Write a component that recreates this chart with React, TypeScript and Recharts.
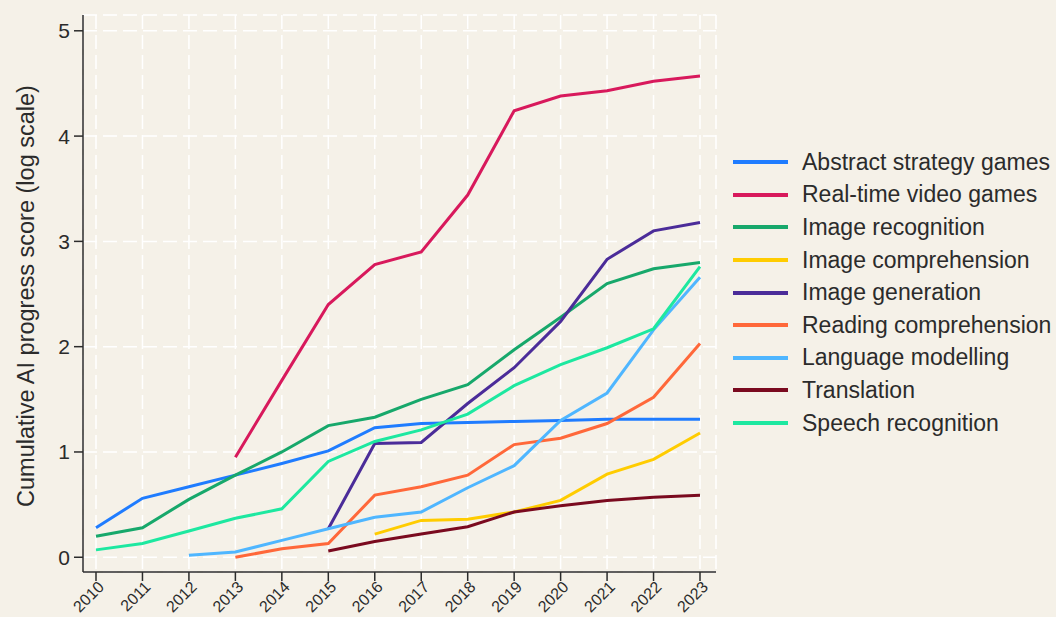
import React from 'react';
import { LineChart, Line, XAxis, YAxis, CartesianGrid, Legend } from 'recharts';

// --- data ---
const years = [2010, 2011, 2012, 2013, 2014, 2015, 2016, 2017, 2018, 2019, 2020, 2021, 2022, 2023];

const abstractStrategy = [0.28, 0.56, 0.67, 0.78, 0.89, 1.01, 1.23, 1.27, 1.28, 1.29, 1.3, 1.31, 1.31, 1.31];
const realTimeVideo = [null, null, null, 0.95, 1.68, 2.4, 2.78, 2.9, 3.44, 4.24, 4.38, 4.43, 4.52, 4.57];
const imageRecognition = [0.2, 0.28, 0.55, 0.78, 1.0, 1.25, 1.33, 1.5, 1.64, 1.97, 2.28, 2.6, 2.74, 2.8];
const imageComprehension = [null, null, null, null, null, null, 0.22, 0.35, 0.36, 0.43, 0.54, 0.79, 0.93, 1.18];
const imageGeneration = [null, null, null, null, null, 0.27, 1.08, 1.09, 1.46, 1.8, 2.24, 2.83, 3.1, 3.18];
const readingComprehension = [null, null, null, 0.0, 0.08, 0.13, 0.59, 0.67, 0.78, 1.07, 1.13, 1.27, 1.52, 2.03];
const languageModelling = [null, null, 0.02, 0.05, 0.16, 0.27, 0.38, 0.43, 0.66, 0.87, 1.3, 1.56, 2.16, 2.66];
const translation = [null, null, null, null, null, 0.06, 0.15, 0.22, 0.29, 0.43, 0.49, 0.54, 0.57, 0.59];
const speechRecognition = [0.07, 0.13, 0.25, 0.37, 0.46, 0.91, 1.1, 1.21, 1.36, 1.63, 1.83, 1.99, 2.17, 2.76];

const yTicks = [0, 1, 2, 3, 4, 5];

const series = [
    { key: 'abstract', name: 'Abstract strategy games', values: abstractStrategy, color: '#1f7cff' },
    { key: 'realtime', name: 'Real-time video games', values: realTimeVideo, color: '#d8195c' },
    { key: 'imgrec', name: 'Image recognition', values: imageRecognition, color: '#17a86b' },
    { key: 'imgcomp', name: 'Image comprehension', values: imageComprehension, color: '#ffcc00' },
    { key: 'imggen', name: 'Image generation', values: imageGeneration, color: '#4b2c99' },
    { key: 'reading', name: 'Reading comprehension', values: readingComprehension, color: '#ff683a' },
    { key: 'language', name: 'Language modelling', values: languageModelling, color: '#4fb6ff' },
    { key: 'translation', name: 'Translation', values: translation, color: '#7a0a1f' },
    { key: 'speech', name: 'Speech recognition', values: speechRecognition, color: '#1de8a0' },
];

const data = years.map((year, i) => {
    const row: any = { year };
    series.forEach((s) => { row[s.key] = s.values[i]; });
    return row;
});

const FONT = '"Liberation Sans", Arial, sans-serif';
const BG = '#f5f1e8';
const INK = '#2b2b2b';

// rotated year labels under the x axis
function YearTick({ x, y, payload }: any) {
    return (
        <g transform={`translate(${x + 5},${y + 1})`}>
            <text x={0} y={0} dy="0.35em" textAnchor="end" transform="rotate(-45)"
                fontSize={16} fill={INK} fontFamily={FONT}>
                {payload.value}
            </text>
        </g>
    );
}

function YLabel() {
    return (
        <text x={26} y={296} transform="rotate(-90 26 296)" textAnchor="middle" dominantBaseline="central"
            fontSize={23.5} fill={INK} fontFamily={FONT}>
            Cumulative AI progress score (log scale)
        </text>
    );
}

function LegendBox() {
    return (
        <div style={{ fontFamily: FONT }}>
            {series.map((s) => (
                <div key={s.key} style={{ display: 'flex', alignItems: 'center', height: 32.6 }}>
                    <div style={{ width: 55, height: 4, background: s.color, marginRight: 14 }} />
                    <span style={{ fontSize: 23, color: INK, whiteSpace: 'nowrap' }}>{s.name}</span>
                </div>
            ))}
        </div>
    );
}

export default function App() {
    return (
        <div style={{ position: 'fixed', left: 0, top: 0, width: 1056, height: 617, background: BG }}>
            <LineChart width={1056} height={617} data={data}
                margin={{ top: 15, right: 340, bottom: 0, left: 0 }}>
                <CartesianGrid stroke="#ffffff" strokeWidth={1.5} strokeDasharray="14 6" />
                <XAxis dataKey="year" padding={{ left: 13, right: 16 }} tick={<YearTick />}
                    tickLine={{ stroke: INK, strokeWidth: 1.5 }} axisLine={{ stroke: INK, strokeWidth: 1.5 }}
                    tickSize={9} interval={0} height={45} />
                <YAxis type="number" domain={[-0.14, 5.15]} ticks={yTicks} width={83}
                    tick={{ fontSize: 21, fill: INK, fontFamily: FONT }}
                    tickLine={{ stroke: INK, strokeWidth: 1.5 }} axisLine={{ stroke: INK, strokeWidth: 1.5 }}
                    tickSize={9} tickMargin={4} label={<YLabel />} />
                {series.map((s) => (
                    <Line key={s.key} type="linear" dataKey={s.key} name={s.name} stroke={s.color}
                        strokeWidth={3} dot={false} activeDot={false} isAnimationActive={false} />
                ))}
                <Legend layout="vertical" align="center" verticalAlign="middle" content={<LegendBox />}
                    wrapperStyle={{ left: 733, top: 146, width: 323 }} />
            </LineChart>
        </div>
    );
}
